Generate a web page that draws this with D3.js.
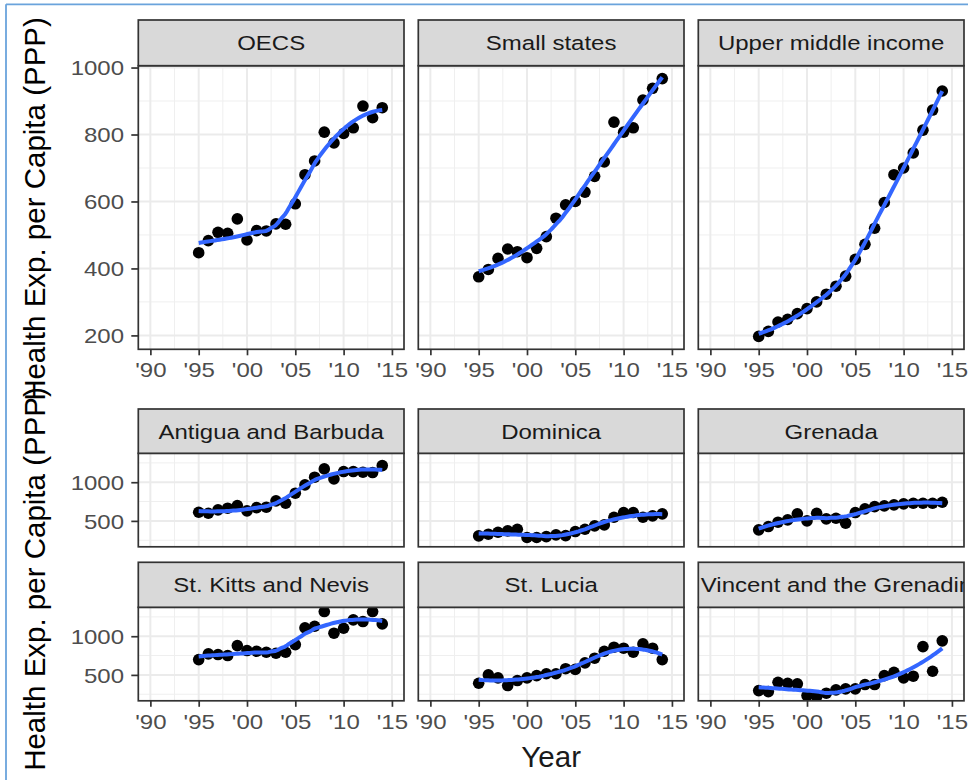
<!DOCTYPE html>
<html><head><meta charset="utf-8">
<script src="https://cdn.jsdelivr.net/npm/d3@7"></script>
<style>html,body{margin:0;padding:0;background:#fff;} svg{display:block;font-family:"Liberation Sans",Arial,sans-serif;}</style>
</head><body><svg id="c" width="968" height="780"></svg>
<script>
// ---------------- data ----------------
const years = [1995,1996,1997,1998,1999,2000,2001,2002,2003,2004,2005,2006,2007,2008,2009,2010,2011,2012,2013,2014];
const oecs        = [447,483,508,505,548,485,513,512,533,532,593,680,721,807,775,803,820,885,850,880];
const smallStates = [375,397,430,458,450,432,460,495,550,590,600,628,675,718,837,807,820,903,938,967];
const upperMiddle = [197,212,240,248,265,280,300,323,347,377,427,472,520,597,680,700,745,813,873,930];
const antigua     = [612,599,642,664,698,629,672,677,759,728,858,966,1065,1172,1043,1138,1138,1129,1125,1215];
const dominica    = [306,328,353,371,392,285,285,297,319,310,362,392,435,448,547,608,608,547,565,591];
const grenada     = [384,427,483,513,591,500,599,526,534,470,608,655,685,694,707,720,728,728,728,741];
const stKitts     = [698,772,763,750,879,815,806,793,780,793,892,1108,1129,1319,1039,1103,1211,1190,1319,1159];
const stLucia     = [392,500,461,362,427,461,491,515,515,580,571,655,716,806,858,845,793,901,845,698];
const stVincent   = [297,284,405,392,384,233,220,263,306,319,319,375,375,491,534,461,483,866,547,940];

const topPanels = ["OECS","Small states","Upper middle income"];
const topSeries = [oecs, smallStates, upperMiddle];
const bottomPanels = ["Antigua and Barbuda","Dominica","Grenada","St. Kitts and Nevis","St. Lucia","St. Vincent and the Grenadines"];
const bottomSeries = [antigua, dominica, grenada, stKitts, stLucia, stVincent];

const xLimits = [1990, 2015];
const xTickValues = [1990,1995,2000,2005,2010,2015];
const xTickLabels = ["'90","'95","'00","'05","'10","'15"];
const topYTicks = [200,400,600,800,1000];
const topYMinor = [300,500,700,900];
const bottomYTicks = [500,1000];
const bottomYMinor = [250,750,1250];
const xMinor = [1992.5,1997.5,2002.5,2007.5,2012.5];
const yTitle = "Health Exp. per Capita (PPP)";
const xTitle = "Year";

// ---------------- helpers ----------------
function expand(lo, hi) { const d = (hi - lo) * 0.05; return [lo - d, hi + d]; }

function solve3(A, b) {
  const M = A.map((r, i) => r.concat([b[i]]));
  for (let c = 0; c < 3; c++) {
    let p = c;
    for (let r = c + 1; r < 3; r++) if (Math.abs(M[r][c]) > Math.abs(M[p][c])) p = r;
    [M[c], M[p]] = [M[p], M[c]];
    for (let r = 0; r < 3; r++) {
      if (r === c) continue;
      const f = M[r][c] / M[c][c];
      for (let k = c; k < 4; k++) M[r][k] -= f * M[c][k];
    }
  }
  return M.map((r, i) => r[3] / r[i]);
}
// local quadratic regression (loess, span .75, tricube) as geom_smooth does
function loess(xs, ys, span, evalX) {
  const n = xs.length, q = Math.floor(n * span);
  return evalX.map(x0 => {
    const d = xs.map(x => Math.abs(x - x0));
    const h = d.slice().sort((a, b) => a - b)[q - 1] * 1.000001;
    const A = [[0,0,0],[0,0,0],[0,0,0]], b = [0,0,0];
    xs.forEach((x, i) => {
      const u = d[i] / h; if (u >= 1) return;
      const w = Math.pow(1 - u * u * u, 3);
      const t = x - x0, B = [1, t, t * t];
      for (let j = 0; j < 3; j++) { b[j] += w * B[j] * ys[i]; for (let k = 0; k < 3; k++) A[j][k] += w * B[j] * B[k]; }
    });
    return [x0, solve3(A, b)[0]];
  });
}

// ---------------- layout ----------------
const svg = d3.select("#c");
svg.append("rect").attr("width", 968).attr("height", 780).attr("fill", "#fff");
// outer frame (blue)
svg.append("line").attr("x1", 6).attr("x2", 968).attr("y1", 4.3).attr("y2", 4.3).attr("stroke", "#6aa3dc").attr("stroke-width", 1.8);
svg.append("line").attr("x1", 6).attr("x2", 6).attr("y1", 4.3).attr("y2", 780).attr("stroke", "#6aa3dc").attr("stroke-width", 1.8);

const panelW = 265.7;
const colLeft = [138.3, 418.3, 698.3];
const rows = [
  {stripTop: 20,    panelTop: 65.7,  panelBottom: 349.3},
  {stripTop: 409,   panelTop: 453.3, panelBottom: 546.8},
  {stripTop: 562.3, panelTop: 607.3, panelBottom: 700.8}
];
const STRETCH = 1.2;
const evalX = d3.range(80).map(i => years[0] + (years[years.length - 1] - years[0]) * i / 79);

const topDomain = expand(d3.min(topSeries, s => d3.min(s)), d3.max(topSeries, s => d3.max(s)));
const botDomain = expand(d3.min(bottomSeries, s => d3.min(s)), d3.max(bottomSeries, s => d3.max(s)));
const xDomain = expand(xLimits[0], xLimits[1]);

let clipId = 0;
function drawPanel(name, values, col, row, yDomain, yTicks, yMinor, showX) {
  const L = colLeft[col], R = L + panelW, rw = rows[row];
  const x = d3.scaleLinear().domain(xDomain).range([L, R]);
  const y = d3.scaleLinear().domain(yDomain).range([rw.panelBottom, rw.panelTop]);
  const g = svg.append("g");
  const cid = "clip" + (clipId++);
  g.append("clipPath").attr("id", cid).append("rect")
    .attr("x", L).attr("y", rw.panelTop).attr("width", panelW).attr("height", rw.panelBottom - rw.panelTop);
  const pg = g.append("g").attr("clip-path", `url(#${cid})`);
  // grid
  pg.selectAll(".ymin").data(yMinor).join("line").attr("x1", L).attr("x2", R)
    .attr("y1", d => y(d)).attr("y2", d => y(d)).attr("stroke", "#efefef").attr("stroke-width", 1);
  pg.selectAll(".xmin").data(xMinor).join("line").attr("y1", rw.panelTop).attr("y2", rw.panelBottom)
    .attr("x1", d => x(d)).attr("x2", d => x(d)).attr("stroke", "#efefef").attr("stroke-width", 1);
  pg.selectAll(".ymaj").data(yTicks).join("line").attr("x1", L).attr("x2", R)
    .attr("y1", d => y(d)).attr("y2", d => y(d)).attr("stroke", "#ebebeb").attr("stroke-width", 2);
  pg.selectAll(".xmaj").data(xTickValues).join("line").attr("y1", rw.panelTop).attr("y2", rw.panelBottom)
    .attr("x1", d => x(d)).attr("x2", d => x(d)).attr("stroke", "#ebebeb").attr("stroke-width", 2);
  // points
  pg.selectAll("circle").data(values).join("circle")
    .attr("cx", (d, i) => x(years[i])).attr("cy", d => y(d)).attr("r", 5.8).attr("fill", "#000");
  // smooth
  const fit = loess(years, values, 0.75, evalX);
  pg.append("path").datum(fit).attr("fill", "none").attr("stroke", "#3366FF").attr("stroke-width", 4)
    .attr("stroke-linejoin", "round").attr("stroke-linecap", "butt")
    .attr("d", d3.line().x(d => x(d[0])).y(d => y(d[1])));
  // border
  g.append("rect").attr("x", L).attr("y", rw.panelTop).attr("width", panelW).attr("height", rw.panelBottom - rw.panelTop)
    .attr("fill", "none").attr("stroke", "#333").attr("stroke-width", 1.7);
  // strip
  const scid = "clip" + (clipId++);
  g.append("clipPath").attr("id", scid).append("rect")
    .attr("x", L).attr("y", rw.stripTop).attr("width", panelW).attr("height", rw.panelTop - rw.stripTop);
  g.append("rect").attr("x", L).attr("y", rw.stripTop).attr("width", panelW).attr("height", rw.panelTop - rw.stripTop)
    .attr("fill", "#d9d9d9").attr("stroke", "#333").attr("stroke-width", 1.7);
  g.append("g").attr("clip-path", `url(#${scid})`).append("text")
    .attr("transform", `translate(${(L + R) / 2},${(rw.stripTop + rw.panelTop) / 2 + 7.4}) scale(1.17,1)`)
    .attr("text-anchor", "middle").attr("font-size", 20.5).attr("fill", "#1a1a1a").text(name);
  // y axis
  if (col === 0) {
    const ay = g.append("g").attr("transform", `translate(${L},0)`)
      .call(d3.axisLeft(y).tickValues(yTicks).tickFormat(d3.format("d")).tickSize(7).tickSizeOuter(0));
    ay.select(".domain").remove();
    ay.selectAll(".tick line").attr("stroke", "#333").attr("stroke-width", 1.7);
    ay.selectAll(".tick text").attr("x", null).attr("dy", null)
      .attr("transform", `translate(-14.3,7.2) scale(${STRETCH},1)`)
      .attr("text-anchor", "end").attr("font-size", 20).attr("font-family", null).attr("fill", "#4d4d4d");
  }
  // x axis
  if (showX) {
    const ax = g.append("g").attr("transform", `translate(0,${rw.panelBottom})`)
      .call(d3.axisBottom(x).tickValues(xTickValues).tickFormat((d, i) => xTickLabels[i]).tickSize(6).tickSizeOuter(0));
    ax.select(".domain").remove();
    ax.selectAll(".tick line").attr("stroke", "#333").attr("stroke-width", 1.7);
    ax.selectAll(".tick text").attr("y", null).attr("dy", null)
      .attr("transform", `translate(0,28) scale(${STRETCH},1)`)
      .attr("text-anchor", "middle").attr("font-size", 20).attr("font-family", null).attr("fill", "#4d4d4d");
  }
}

topPanels.forEach((name, i) => drawPanel(name, topSeries[i], i, 0, topDomain, topYTicks, topYMinor, true));
bottomPanels.forEach((name, i) => drawPanel(name, bottomSeries[i], i % 3, 1 + Math.floor(i / 3), botDomain, bottomYTicks, bottomYMinor, i >= 3));

// axis titles
svg.append("text").attr("transform", "translate(45,209) rotate(-90)").attr("text-anchor", "middle")
  .attr("font-size", 29.5).attr("fill", "#000").text(yTitle);
svg.append("text").attr("transform", "translate(45,579) rotate(-90)").attr("text-anchor", "middle")
  .attr("font-size", 29.5).attr("fill", "#000").text(yTitle);
svg.append("text").attr("x", (colLeft[0] + colLeft[2] + panelW) / 2).attr("y", 766.5).attr("text-anchor", "middle")
  .attr("font-size", 29.5).attr("fill", "#1a1a1a").text(xTitle);
</script></body></html>
